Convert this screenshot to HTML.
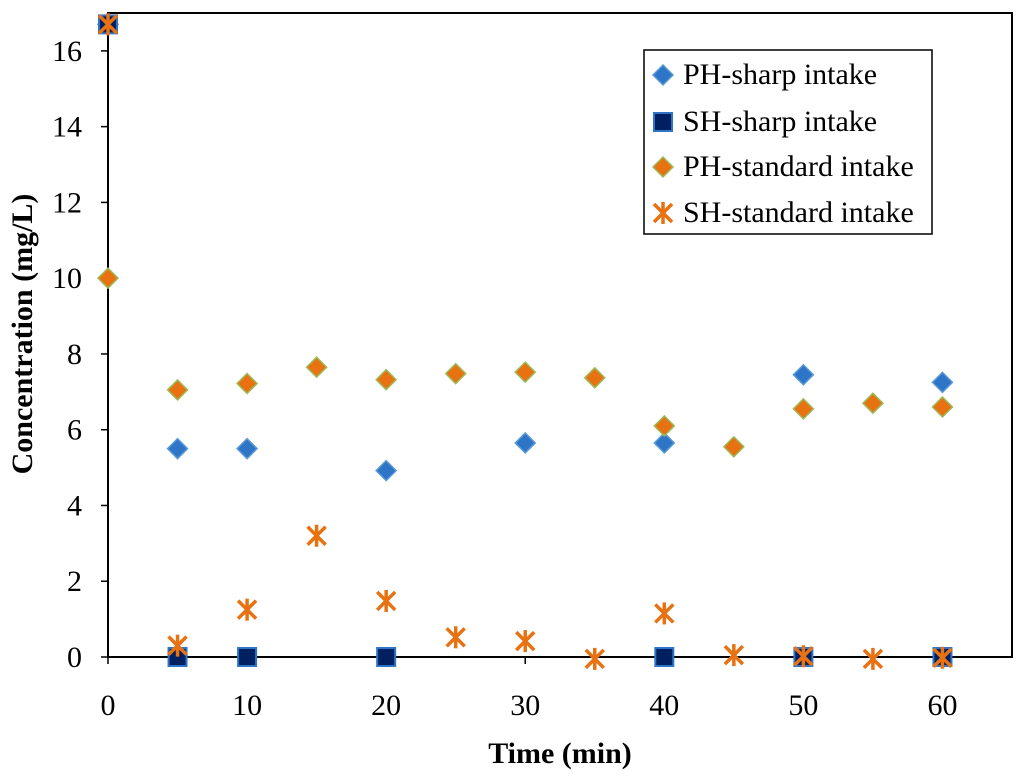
<!DOCTYPE html>
<html><head><meta charset="utf-8"><style>
body{margin:0;background:#fff}
svg{display:block;font-family:"Liberation Serif",serif}
</style></head><body>
<svg id="chart" width="1024" height="778">
<rect x="108" y="13" width="904" height="644" fill="none" stroke="#000" stroke-width="2"/>
<g id="ticks"></g>
<g id="marks"></g>
<text x="560" y="763" text-anchor="middle" font-size="30" font-weight="bold">Time (min)</text>
<text transform="translate(32,334) rotate(-90)" text-anchor="middle" font-size="30" font-weight="bold">Concentration  (mg/L)</text>
<g>
<rect x="644" y="50" width="288" height="184" fill="#fff" stroke="#000" stroke-width="1.5"/>
<g id="legend"></g>
</g>
</svg>
<script>
const xTicks=[0,10,20,30,40,50,60];
const yTicks=[0,2,4,6,8,10,12,14,16];
const phSharpX=[0,5,10,20,30,40,50,60];
const phSharpY=[16.7,5.5,5.5,4.92,5.65,5.65,7.45,7.25];
const shSharpX=[0,5,10,20,40,50,60];
const shSharpY=[16.7,0,0,0,0,0,0];
const phStdX=[0,5,10,15,20,25,30,35,40,45,50,55,60];
const phStdY=[10,7.05,7.22,7.65,7.32,7.48,7.52,7.37,6.1,5.55,6.55,6.7,6.6];
const shStdX=[0,5,10,15,20,25,30,35,40,45,50,55,60];
const shStdY=[16.7,0.3,1.25,3.2,1.48,0.52,0.42,-0.05,1.15,0.05,0.02,-0.05,-0.02];
const seriesNames=["PH-sharp intake","SH-sharp intake","PH-standard intake","SH-standard intake"];
const NS="http://www.w3.org/2000/svg";
const X=v=>108+v*(904/65);
const Y=v=>657-v*(644/17);
function mk(tag,attrs,parent){const e=document.createElementNS(NS,tag);for(const k in attrs)e.setAttribute(k,attrs[k]);parent.appendChild(e);return e;}
const tg=document.getElementById('ticks');
xTicks.forEach(t=>{
  const l=mk('line',{x1:X(t),x2:X(t),y1:657,y2:664,stroke:'#000','stroke-width':1.5},tg);
  
  
  const tx=mk('text',{x:X(t),y:715,'text-anchor':'middle','font-size':30},tg);
  tx.textContent=t;
  
  
});
yTicks.forEach(t=>{
  const l=mk('line',{x1:101,x2:108,y1:Y(t),y2:Y(t),stroke:'#000','stroke-width':1.5},tg);
  
  
  const tx=mk('text',{x:82,y:Y(t)+10,'text-anchor':'end','font-size':30},tg);
  tx.textContent=t;
  
  
});
function diamond(cx,cy,fill,stroke,p,name){
  const e=mk('polygon',{points:`${cx},${cy-10} ${cx+10},${cy} ${cx},${cy+10} ${cx-10},${cy}`,fill:fill,stroke:stroke,'stroke-width':1.5},p);
  
  
}
function square(cx,cy,p,name){
  const e=mk('rect',{x:cx-9,y:cy-9,width:18,height:18,fill:'#002060',stroke:'#2e75c8','stroke-width':2},p);
  
  
}
function star(cx,cy,p,name){
  const g=mk('g',{stroke:'#e87212','stroke-width':3.5,'stroke-linecap':'butt'},p);
  
  
  mk('line',{x1:cx-9,y1:cy-9,x2:cx+9,y2:cy+9},g);
  mk('line',{x1:cx-9,y1:cy+9,x2:cx+9,y2:cy-9},g);
  mk('line',{x1:cx,y1:cy-11,x2:cx,y2:cy+11},g);
}
const mg=document.getElementById('marks');
phSharpX.forEach((x,i)=>diamond(X(x),Y(phSharpY[i]),'#2e75c8','#5b9bd5',mg,'ph-sharp-point'));
shSharpX.forEach((x,i)=>square(X(x),Y(shSharpY[i]),mg,'sh-sharp-point'));
phStdX.forEach((x,i)=>diamond(X(x),Y(phStdY[i]),'#e87212','#9bbb59',mg,'ph-standard-point'));
shStdX.forEach((x,i)=>star(X(x),Y(shStdY[i]),mg,'sh-standard-point'));
const lg=document.getElementById('legend');
const ly=[75,122,167,213];
diamond(663,ly[0],'#2e75c8','#5b9bd5',lg,'legend-marker-ph-sharp');
square(663,ly[1],lg,'legend-marker-sh-sharp');
diamond(663,ly[2],'#e87212','#9bbb59',lg,'legend-marker-ph-standard');
star(663,ly[3],lg,'legend-marker-sh-standard');
seriesNames.forEach((n,i)=>{
  const t=mk('text',{x:683,y:ly[i]+9,'font-size':30},lg);
  t.textContent=n;
  
  
});
</script>
</body></html>
